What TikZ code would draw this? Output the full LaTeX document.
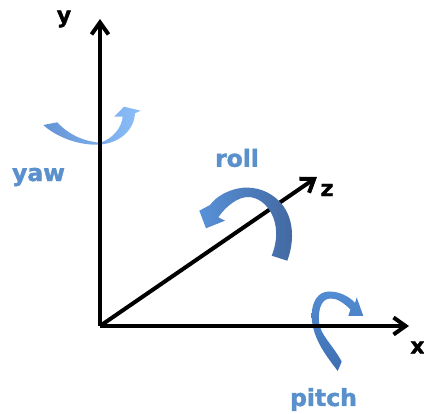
\documentclass[tikz,border=0pt]{standalone}
\usepackage{fontspec}
\setmainfont[BoldFeatures={FakeBold=1.6}]{DejaVu Sans}
\usetikzlibrary{arrows.meta}
\definecolor{lblblue}{HTML}{5A90CC}
\definecolor{yawa}{HTML}{6494D4}
\definecolor{yawb}{HTML}{8CBEFA}
\definecolor{pita}{HTML}{528CD2}
\definecolor{pitb}{HTML}{3E6EB2}
\definecolor{rola}{HTML}{5891D8}
\definecolor{rolb}{HTML}{4268A0}
\tikzset{
  axisline/.style={line width=4pt,draw=black,-{Straight Barb[length=12pt,width=17pt,line width=4pt]}},
  axislabel/.style={font=\fontsize{22}{22}\selectfont\bfseries,text=black,inner sep=0pt,anchor=center},
  rotlabel/.style={font=\fontsize{23.5}{23.5}\selectfont\bfseries,text=lblblue,inner sep=0pt,anchor=center},
  rotarrow/.style={draw=none}
}
\begin{document}
\begin{tikzpicture}[x=1pt,y=-1pt]
\useasboundingbox (0,0) rectangle (424,414);
\fill[white] (0,0) rectangle (424,414);
\coordinate (o) at (100,326);
\coordinate (ytip) at (100,19);
\coordinate (xtip) at (409,326);
\coordinate (ztip) at (317,177);
% yaw arrow
\path[rotarrow,left color=yawa,right color=yawb]
  (43.3,125) .. controls (55,136) and (78,146) .. (100,144.5)
  .. controls (120,143) and (134,130) .. (135,113.3)
  -- (140.7,110.7) -- (124,106.7) -- (114.3,116.7) -- (122.7,116.7)
  .. controls (122,127) and (113,139) .. (100,142.7)
  .. controls (82,141) and (68,134) .. (57.3,122.3) -- cycle;
% pitch arrow
\path[rotarrow,top color=pita,bottom color=pitb]
  (337.7,371) .. controls (328,358) and (313,340) .. (311.7,318)
  .. controls (311,302) and (318,291.5) .. (329,291.5)
  .. controls (339,291.5) and (349,296) .. (355,303)
  -- (356.7,297.3) -- (363.3,316) -- (348.3,316) -- (350.5,309.5)
  .. controls (343,302) and (336,298) .. (330,298.5)
  .. controls (322,299) and (318,308) .. (319,322)
  .. controls (320,335) and (333,345) .. (341.7,361.7) -- cycle;
% axes
\draw[axisline] (o) -- (ytip);
\draw[axisline] (o) -- (xtip);
\draw[axisline] (o) -- (ztip);
% roll arrow
\path[rotarrow,left color=rola,right color=rolb]
  (287.3,260.7) .. controls (295,240) and (294,216) .. (279,201)
  .. controls (266,188) and (249,186) .. (238,188.5)
  .. controls (226,191) and (216,197) .. (210,205)
  -- (199.3,210.7) -- (206,228.3) -- (225,220.7) -- (218.3,217.3)
  .. controls (226,206) and (238,197) .. (248,197)
  .. controls (266,197) and (285,222) .. (271.7,255.7) -- cycle;
% labels
\node[axislabel] (ylbl) at (64,19) {y};
\node[axislabel] (zlbl) at (327,190) {z};
\node[axislabel] (xlbl) at (417.5,347.5) {x};
\node[rotlabel] (yawlbl) at (38.5,177) {yaw};
\node[rotlabel] (rolllbl) at (237,158) {roll};
\node[rotlabel] (pitchlbl) at (323.5,399.5) {pitch};
\end{tikzpicture}
\end{document}
